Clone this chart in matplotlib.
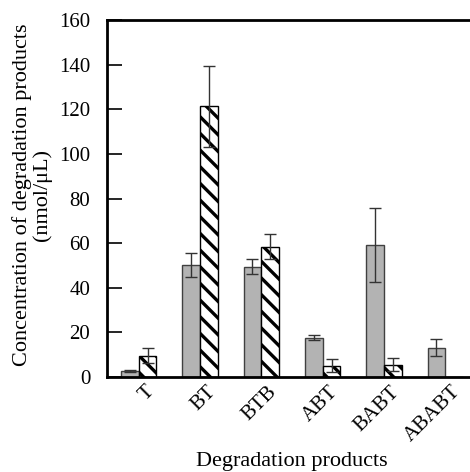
import numpy as np
import matplotlib
matplotlib.use('Agg')
import matplotlib.pyplot as plt
import matplotlib.transforms as mtransforms

# degradation products and measured concentrations (nmol/uL)
products = ['T', 'BT', 'BTB', 'ABT', 'BABT', 'ABABT']
gray_vals = [2.7, 50.1, 49.5, 17.6, 59.3, 13.2]
gray_err = [0.5, 5.4, 3.3, 1.2, 16.5, 3.8]
hatch_vals = [9.6, 121.3, 58.4, 5.1, 5.5, 0.0]
hatch_err = [3.2, 18.0, 5.7, 3.0, 3.0, 0.0]

plt.rcParams['font.family'] = ['Liberation Serif', 'DejaVu Serif']
plt.rcParams['hatch.linewidth'] = 2.4
plt.rcParams['hatch.color'] = 'black'

fig = plt.figure(figsize=(4.7, 4.72), dpi=100)
ax = fig.add_axes([107 / 470, 1 - 377 / 472, 369 / 470, 357 / 472])

x = np.arange(len(products))
width = 0.29

ax.bar(x - width / 2, gray_vals, width, color='#b3b3b3', edgecolor='#404040',
       linewidth=1.0, zorder=2)
ax.bar(x + width / 2, hatch_vals, width, color='white', edgecolor='black',
       hatch='\\\\', linewidth=1.0, zorder=2)

gmask = np.array(gray_err) > 0
hmask = np.array(hatch_err) > 0
ax.errorbar((x - width / 2)[gmask], np.array(gray_vals)[gmask],
            yerr=np.array(gray_err)[gmask], fmt='none', ecolor='#333333',
            elinewidth=1.0, capsize=4, capthick=1.0, zorder=3)
ax.errorbar((x + width / 2)[hmask], np.array(hatch_vals)[hmask],
            yerr=np.array(hatch_err)[hmask], fmt='none', ecolor='#333333',
            elinewidth=1.0, capsize=4, capthick=1.0, zorder=3)

ax.set_xlim(-0.516, 5.5)
ax.set_ylim(0, 160)
ax.set_yticks(np.arange(0, 161, 20))
ax.tick_params(axis='y', direction='in', length=11, width=1.2, labelsize=15, pad=12)
ax.tick_params(axis='x', length=0, labelsize=15, pad=4)
ax.set_xticks(x)
ax.set_xticklabels(products, rotation=45, ha='right', va='top', rotation_mode='anchor')
offset = mtransforms.ScaledTranslation(0.06, 0, fig.dpi_scale_trans)
for lbl in ax.get_xticklabels():
    lbl.set_transform(lbl.get_transform() + offset)

for side in ['left', 'bottom', 'top', 'right']:
    ax.spines[side].set_linewidth(2.0)

ax.set_ylabel('Concentration of degradation products\n(nmol/\u03bcL)', fontsize=16,
              linespacing=1.05)
ax.yaxis.set_label_coords(-0.148, 0.51)
ax.set_xlabel('Degradation products', fontsize=16, va='top')
ax.xaxis.set_label_coords(0.5, -0.21)

fig.savefig('out.png', dpi=100)
